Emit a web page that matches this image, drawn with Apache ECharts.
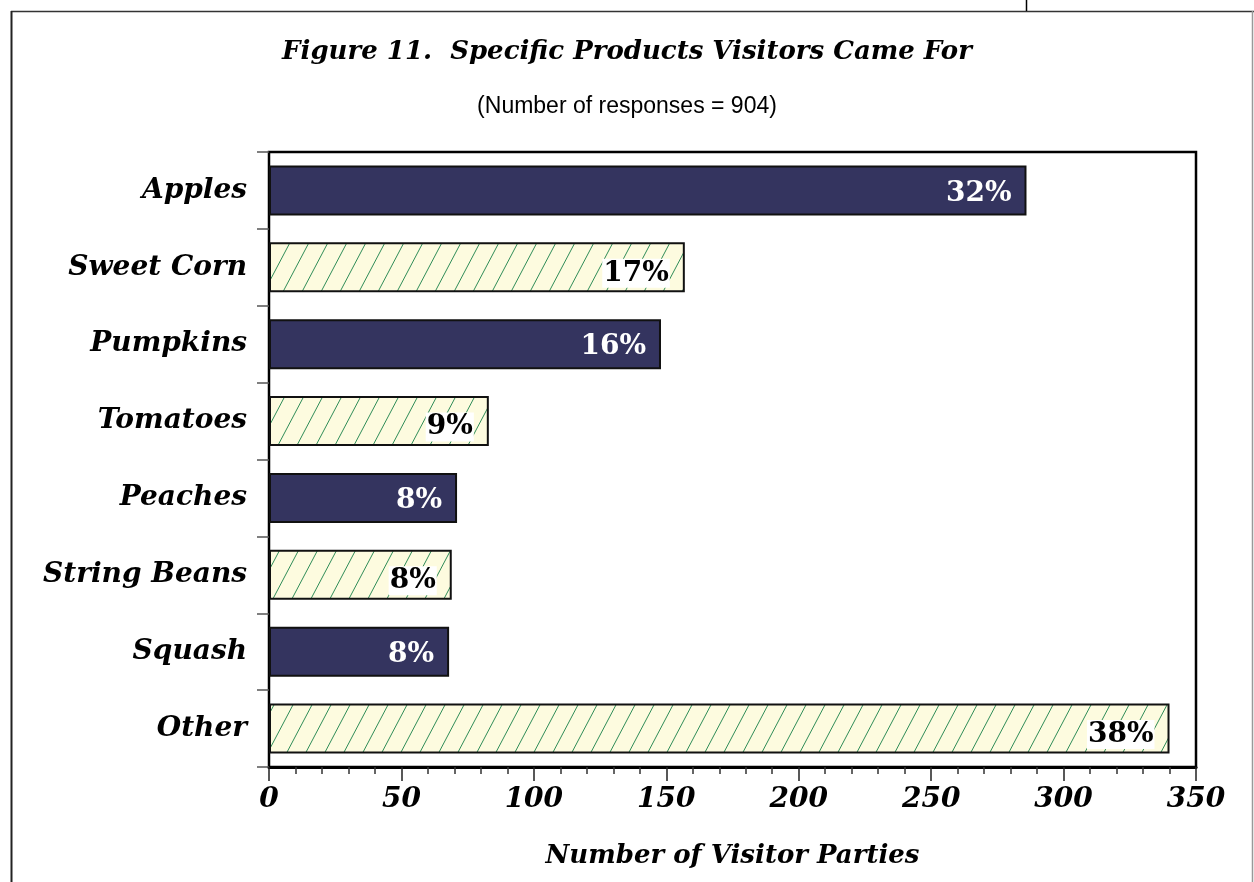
<!DOCTYPE html>
<html>
<head>
<meta charset="utf-8">
<script src="https://cdn.jsdelivr.net/npm/echarts@6/dist/echarts.min.js"></script>
<style>
html,body{margin:0;padding:0;background:#fff;}
#chart{width:1254px;height:882px;}
</style>
</head>
<body>
<div id="chart"></div>
<script>
const categories = ['Apples','Sweet Corn','Pumpkins','Tomatoes','Peaches','String Beans','Squash','Other'];
const values = [286, 157, 148, 83, 71, 69, 68, 340];
const percentLabels = ['32%','17%','16%','9%','8%','8%','8%','38%'];
const hatched = [false, true, false, true, false, true, false, true];
const xTicks = [0, 50, 100, 150, 200, 250, 300, 350];

const serif = '"DejaVu Serif", "Liberation Serif", serif';

// hatch pattern tile
function makeHatch() {
  const w = 19, h = 36;
  const c = document.createElement('canvas');
  c.width = w; c.height = h;
  const g = c.getContext('2d');
  g.fillStyle = '#fdfbdf';
  g.fillRect(0, 0, w, h);
  g.strokeStyle = '#2f8c58';
  g.lineWidth = 1;
  for (let k = -1; k <= 1; k++) {
    g.beginPath();
    g.moveTo(k * w, h);
    g.lineTo(k * w + w, 0);
    g.stroke();
  }
  return c;
}
const hatchFill = { image: makeHatch(), repeat: 'repeat' };

const seriesData = values.map((v, i) => {
  if (hatched[i]) {
    return {
      value: v,
      itemStyle: { color: hatchFill, borderColor: '#111', borderWidth: 2 },
      label: {
        color: '#000', backgroundColor: '#fff', padding: [1, 1, 0, 1], offset: [0, 6]
      }
    };
  }
  return {
    value: v,
    itemStyle: { color: '#34345f', borderColor: '#111', borderWidth: 2 },
    label: { color: '#fff', offset: [0, 3] }
  };
});

const chart = echarts.init(document.getElementById('chart'), null, { renderer: 'canvas' });
chart.setOption({
  animation: false,
  backgroundColor: '#fff',
  title: [
    {
      text: 'Figure 11.  Specific Products Visitors Came For',
      left: 'center', top: 34,
      textStyle: { fontFamily: serif, fontStyle: 'italic', fontWeight: 'bold', fontSize: 26, color: '#000' }
    },
    {
      text: '(Number of responses = 904)',
      left: 'center', top: 90,
      textStyle: { fontFamily: '"Liberation Sans", Arial, sans-serif', fontWeight: 'normal', fontSize: 23, color: '#000' }
    }
  ],
  graphic: [
    { type: 'line', shape: { x1: 11, y1: 11.5, x2: 1254, y2: 11.5 }, style: { stroke: '#333', lineWidth: 1.5 } },
    { type: 'line', shape: { x1: 11.5, y1: 11, x2: 11.5, y2: 882 }, style: { stroke: '#222', lineWidth: 2 } },
    { type: 'line', shape: { x1: 1026.5, y1: 0, x2: 1026.5, y2: 11 }, style: { stroke: '#000', lineWidth: 1.5 } },
    { type: 'line', shape: { x1: 1252.5, y1: 11, x2: 1252.5, y2: 882 }, style: { stroke: '#999', lineWidth: 1.5 } }
  ],
  grid: {
    left: 269, right: 58, top: 152, bottom: 115,
    show: true, borderColor: '#000', borderWidth: 2.5, backgroundColor: 'transparent'
  },
  xAxis: {
    type: 'value', min: xTicks[0], max: xTicks[xTicks.length - 1], interval: 50,
    axisLine: { show: true, lineStyle: { color: '#000', width: 3 } },
    axisTick: { show: true, length: 14, lineStyle: { color: '#222', width: 1.5 } },
    minorTick: { show: true, splitNumber: 5, length: 7, lineStyle: { color: '#333', width: 1.5 } },
    splitLine: { show: false },
    axisLabel: {
      margin: 19, color: '#000', fontFamily: serif, fontStyle: 'italic', fontWeight: 'bold', fontSize: 28,
      formatter: v => xTicks.includes(v) ? String(v) : ''
    },
    name: 'Number of Visitor Parties',
    nameLocation: 'middle', nameGap: 76,
    nameTextStyle: { color: '#000', fontFamily: serif, fontStyle: 'italic', fontWeight: 'bold', fontSize: 26 }
  },
  yAxis: {
    type: 'category', data: categories, inverse: true,
    axisLine: { show: false },
    axisTick: { show: true, length: 12, lineStyle: { color: '#555', width: 1.5 } },
    axisLabel: {
      margin: 22, color: '#000', fontFamily: serif, fontStyle: 'italic', fontWeight: 'bold', fontSize: 28
    }
  },
  series: [{
    type: 'bar',
    data: seriesData,
    barCategoryGap: '35%',
    label: {
      show: true, position: 'insideRight', distance: 15,
      fontFamily: serif, fontWeight: 'bold', fontSize: 28,
      formatter: p => percentLabels[p.dataIndex]
    }
  }]
});
</script>
</body>
</html>
